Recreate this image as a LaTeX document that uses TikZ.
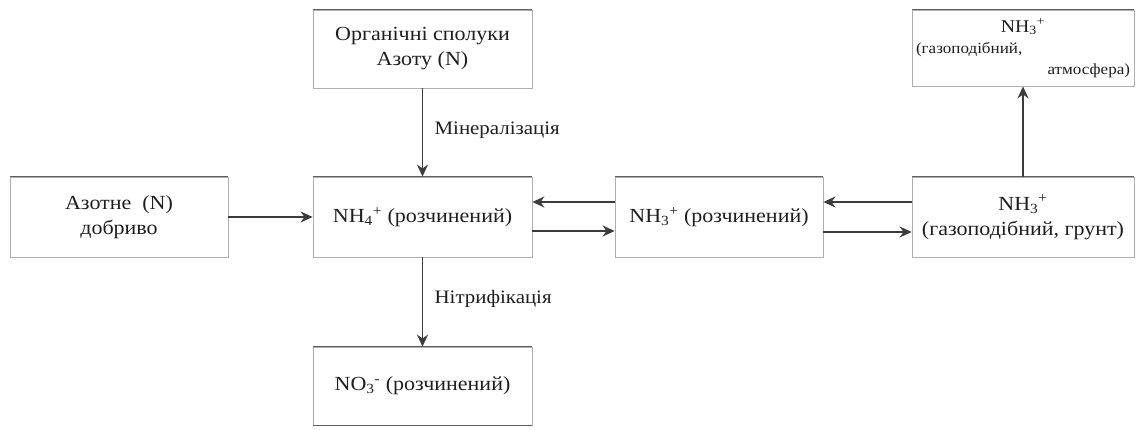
\documentclass[tikz,border=0pt]{standalone}
\usepackage{fontspec}
\setmainfont{Liberation Serif}[FakeStretch=1.1]
\usetikzlibrary{arrows.meta}
\definecolor{boxgray}{RGB}{175,175,175}
\definecolor{edgegray}{RGB}{95,95,95}
\definecolor{arrowgray}{RGB}{60,60,60}
\definecolor{inkgray}{RGB}{30,30,30}

\begin{document}
\begin{tikzpicture}[x=1pt,y=-1pt,
    box/.style={draw=boxgray,line width=0.8pt,minimum width=219pt,minimum height=80pt,
      align=center,inner sep=2pt,font=\fontsize{20}{25}\selectfont,text=inkgray},
    flow/.style={draw=arrowgray,line width=1.6pt,-{Stealth[length=12pt,width=11pt]}},
    tag/.style={font=\fontsize{19}{22}\selectfont,text=inkgray}]
  \useasboundingbox (0,0) rectangle (1147,430);
  % boxes
  \node[box,minimum height=78pt] (org) at (422.5,49) {Органічні сполуки\\Азоту (N)};
  \node[box,minimum width=218pt] (fert) at (119,217) {Азотне\ \ (N)\\добриво};
  \node[box] (nh4) at (422.5,217) {NH\textsubscript{4}\textsuperscript{+} (розчинений)};
  \node[box,minimum width=208pt] (nh3) at (719,217) {NH\textsubscript{3}\textsuperscript{+} (розчинений)};
  \node[box,minimum width=222pt] (gas) at (1023,217) {NH\textsubscript{3}\textsuperscript{+}\\(газоподібний, грунт)};
  \node[box,minimum width=222pt,minimum height=76pt,text width=214pt,
    font=\fontsize{15.5}{21}\selectfont] (air) at (1023,48)
    {{\fontsize{18}{21}\selectfont NH\textsubscript{3}\textsuperscript{+}}\\
     \makebox[\hsize][l]{(газоподібний,}\\
     \makebox[\hsize][r]{атмосфера)}};
  \node[box,minimum height=78pt] (no3) at (422.5,386) {NO\textsubscript{3}\textsuperscript{-}\ (розчинений)};
  % darker top edges
  \foreach \n in {org,fert,nh4,nh3,gas,air,no3}
    \draw[edgegray,line width=1.3pt] (\n.north west) -- (\n.north east);
  \draw[edgegray,line width=1.3pt] (no3.south west) -- (no3.south east);
  % arrows
  \draw[flow] (fert.east) -- (nh4.west);
  \draw[flow] (org.south) -- node[tag,right=8pt,pos=0.47] {Мінералізація} (nh4.north);
  \draw[flow] (nh4.south) -- node[tag,right=8pt,pos=0.47] {Нітрифікація} (no3.north);
  \draw[flow] ([yshift=15pt]nh3.west) -- ([yshift=15pt]nh4.east);
  \draw[flow] ([yshift=-14pt]nh4.east) -- ([yshift=-14pt]nh3.west);
  \draw[flow] ([yshift=15pt]gas.west) -- ([yshift=15pt]nh3.east);
  \draw[flow] ([yshift=-15pt]nh3.east) -- ([yshift=-15pt]gas.west);
  \draw[flow] (gas.north) -- (air.south);
\end{tikzpicture}
\end{document}
